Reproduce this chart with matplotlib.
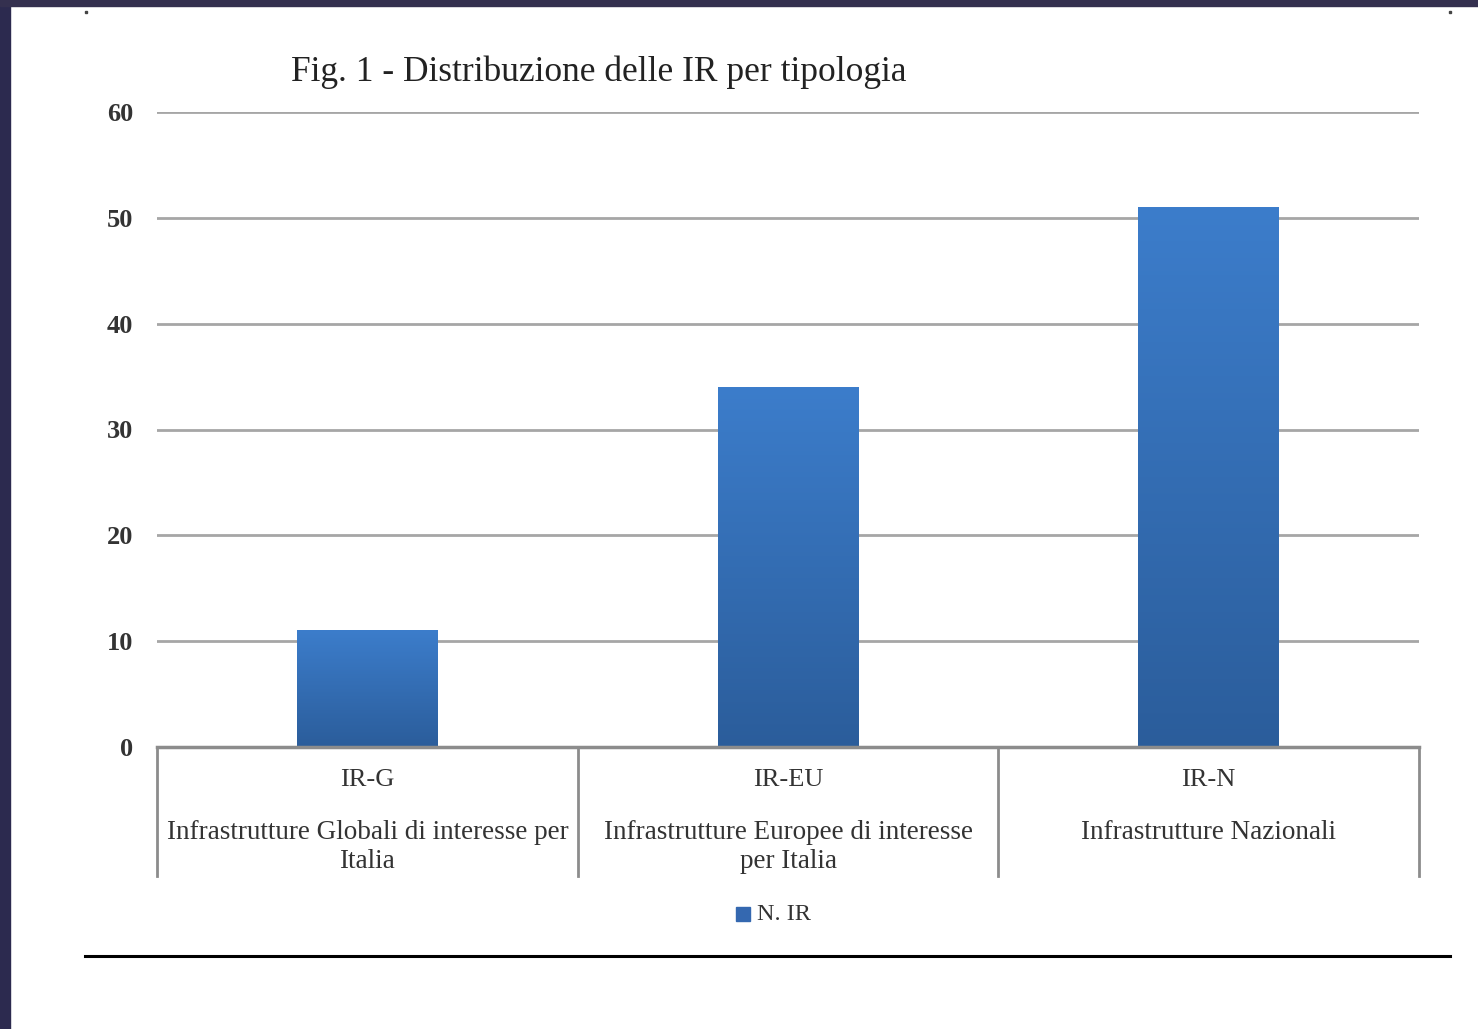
import matplotlib

matplotlib.use("Agg")
import matplotlib.pyplot as plt
import numpy as np
from matplotlib.colors import LinearSegmentedColormap
from matplotlib.patches import Rectangle
import matplotlib.transforms as mtransforms

codes = ["IR-G", "IR-EU", "IR-N"]
descriptions = [
    "Infrastrutture Globali di interesse per\nItalia",
    "Infrastrutture Europee di interesse\nper Italia",
    "Infrastrutture Nazionali",
]
n_ir = [11, 34, 51]
yticks = [0, 10, 20, 30, 40, 50, 60]

W, H = 1478, 1029
SERIF = "Liberation Serif"
fig = plt.figure(figsize=(W / 100, H / 100), dpi=100)
fig.patch.set_facecolor("white")

# dark slide frame on the left and top
fig.patches.append(Rectangle((0, 0), 10 / W, 1, transform=fig.transFigure,
                             color="#2c2a4f", zorder=0))
fig.patches.append(Rectangle((0, 1 - 6 / H), 1, 6 / H, transform=fig.transFigure,
                             color="#34304f", zorder=0))

left, right = 157 / W, 1419 / W
bottom, top = (H - 747) / H, (H - 112) / H
ax = fig.add_axes([left, bottom, right - left, top - bottom])

for s in ["top", "right", "left"]:
    ax.spines[s].set_visible(False)
ax.spines["bottom"].set_color("#8c8c8c")
ax.spines["bottom"].set_linewidth(2.5)

ax.set_yticks(yticks)
ax.set_yticklabels([str(t) for t in yticks], fontfamily=SERIF,
                   fontweight="bold", fontsize=19, color="#333333")
ax.tick_params(axis="y", length=0, pad=17)
ax.set_xticks([])
for t in yticks[1:]:
    ax.axhline(t, color="#a6a6a6", lw=2, zorder=1)

# gradient bars
cmap = LinearSegmentedColormap.from_list("blu", ["#2b5d9b", "#3c7dcb"])
grad = np.linspace(0, 1, 256).reshape(-1, 1)
bw = 0.335
for i, v in enumerate(n_ir):
    ax.imshow(grad, extent=[i - bw / 2, i + bw / 2, 0, v], origin="lower",
              cmap=cmap, aspect="auto", zorder=2)
ax.set_xlim(-0.5, len(codes) - 0.5)
ax.set_ylim(0, 60)

# category table below the axis
trans = mtransforms.blended_transform_factory(ax.transData, ax.transAxes)
for x in np.arange(len(codes) + 1) - 0.5:
    ax.plot([x, x], [0, -0.203], transform=trans, color="#8c8c8c", lw=2,
            clip_on=False)
line_y = [-0.1345, -0.181]
for i, (c, d) in enumerate(zip(codes, descriptions)):
    ax.text(i, -0.052, c, transform=trans, ha="center", va="center",
            fontfamily=SERIF, fontsize=19, color="#333333")
    for k, line in enumerate(d.split("\n")):
        ax.text(i, line_y[k], line, transform=trans, ha="center", va="center",
                fontfamily=SERIF, fontsize=19.5, color="#333333")

# legend
fig.patches.append(Rectangle((736 / W, 1 - 921 / H), 14 / W, 14 / H,
                             transform=fig.transFigure, color="#3468b0"))
fig.text(757 / W, 1 - 915 / H, "N. IR", ha="left", va="center",
         fontfamily=SERIF, fontsize=17.5, color="#333333")

# title
fig.text(599 / W, 1 - 72 / H, "Fig. 1 - Distribuzione delle IR per tipologia",
         ha="center", va="center", fontfamily=SERIF, fontsize=25.5,
         color="#222222")

# page rule and dots
fig.add_artist(plt.Line2D([85 / W, 1450 / W], [1 - 956 / H, 1 - 956 / H],
                          transform=fig.transFigure, color="black", lw=2.2))
fig.add_artist(plt.Line2D([86 / W, 1450 / W], [1 - 12 / H, 1 - 12 / H],
                          transform=fig.transFigure, color="#444444", ls="none",
                          marker="s", ms=2))

fig.savefig("out.png", dpi=100)
